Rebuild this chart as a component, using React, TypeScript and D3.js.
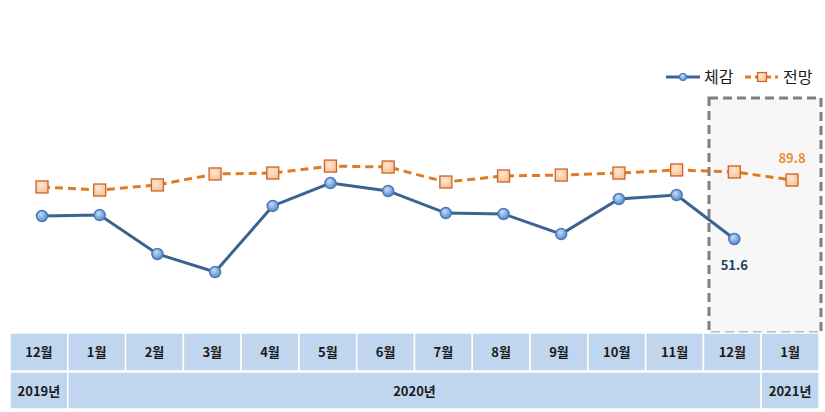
import React from "react";
import * as d3 from "d3";

const months = ["12월", "1월", "2월", "3월", "4월", "5월", "6월", "7월", "8월", "9월", "10월", "11월", "12월", "1월"];
const years = [
  { label: "2019년", from: 0, to: 0 },
  { label: "2020년", from: 1, to: 12 },
  { label: "2021년", from: 13, to: 13 },
];
const felt = [66.5, 67.1, 41.9, 30.2, 73.0, 87.8, 82.7, 68.4, 67.8, 54.8, 77.5, 80.1, 51.6];
const outlook = [85.3, 83.3, 86.6, 93.7, 94.3, 98.8, 98.2, 88.5, 92.4, 93.0, 94.3, 96.3, 95.0, 89.8];
const seriesNames = ["체감", "전망"];

const W = 825, H = 412;
const font = "'Malgun Gothic','Noto Sans CJK KR','Noto Sans',sans-serif";

export default function App() {
  const left = 10, right = 819;
  const x = d3.scaleBand<number>().domain(d3.range(months.length)).range([left, right]);
  const cx = (i: number) => (x(i) as number) + x.bandwidth() / 2;
  const px = d3.scalePoint<number>().domain(d3.range(months.length)).range([42, 792]);
  const y = d3.scaleLinear().domain([51.6, 89.8]).range([239, 180]);

  const line = d3.line<number>().x((_, i) => px(i) as number).y((d) => y(d));
  const row1Top = 333, row1H = 38, row2Top = 372, row2H = 37;

  return (
    <div style={{ position: "absolute", left: 0, top: 0 }}>
      <svg width={W} height={H} style={{ display: "block", fontFamily: font }}>
        <defs>
          <radialGradient id="blueG" cx="40%" cy="35%" r="70%">
            <stop offset="0%" stopColor="#c6dcf5" />
            <stop offset="60%" stopColor="#7ba7dc" />
            <stop offset="100%" stopColor="#5b8bd0" />
          </radialGradient>
          <radialGradient id="orangeG" cx="40%" cy="35%" r="75%">
            <stop offset="0%" stopColor="#fde7d3" />
            <stop offset="100%" stopColor="#f8bf8e" />
          </radialGradient>
        </defs>
        <rect width={W} height={H} fill="#fff" />
        {/* highlight box */}
        <rect x={709} y={98} width={112} height={235} fill="#f7f7f7" stroke="#7f7f7f" strokeWidth={3} strokeDasharray="9,5" />

        {/* table */}
        {months.map((m, i) => (
          <g key={"m" + i}>
            <rect x={x(i) as number} y={row1Top} width={x.bandwidth()} height={row1H} fill="#c0d6ef" stroke="#fff" strokeWidth={1.5} />
            <text x={cx(i)} y={row1Top + row1H / 2 + 5} textAnchor="middle" fontSize={13} fontWeight="bold" fill="#1a1a1a">{m}</text>
          </g>
        ))}
        {years.map((yr, k) => {
          const x0 = x(yr.from) as number;
          const x1 = (x(yr.to) as number) + x.bandwidth();
          return (
            <g key={"y" + k}>
              <rect x={x0} y={row2Top} width={x1 - x0} height={row2H} fill="#c0d6ef" stroke="#fff" strokeWidth={1.5} />
              <text x={(x0 + x1) / 2} y={row2Top + row2H / 2 + 5} textAnchor="middle" fontSize={13} fontWeight="bold" fill="#1a1a1a">{yr.label}</text>
            </g>
          );
        })}

        {/* outlook line */}
        <path d={line(outlook) || ""} fill="none" stroke="#e07b22" strokeWidth={3} strokeDasharray="8,5" />
        {/* felt line */}
        <path d={line(felt) || ""} fill="none" stroke="#3b6290" strokeWidth={3} />

        {outlook.map((v, i) => (
          <rect key={"o" + i} x={(px(i) as number) - 6} y={y(v) - 6} width={12} height={12} fill="url(#orangeG)" stroke="#c8652a" strokeWidth={1.3} />
        ))}
        {felt.map((v, i) => (
          <circle key={"f" + i} cx={px(i) as number} cy={y(v)} r={5.5} fill="url(#blueG)" stroke="#4a78b8" strokeWidth={1.5} />
        ))}

        {/* data labels */}
        <text x={px(felt.length - 1) as number} y={y(felt[felt.length - 1]) + 31} textAnchor="middle" fontSize={13} fontWeight="bold" fill="#243f60">{felt[felt.length - 1].toFixed(1)}</text>
        <text x={px(outlook.length - 1) as number} y={y(outlook[outlook.length - 1]) - 17} textAnchor="middle" fontSize={13} fontWeight="bold" fill="#e3923b">{outlook[outlook.length - 1].toFixed(1)}</text>

        {/* legend */}
        <g>
          <line x1={666} x2={700} y1={77} y2={77} stroke="#3b6290" strokeWidth={3} />
          <circle cx={683} cy={77} r={3.5} fill="url(#blueG)" stroke="#4a78b8" strokeWidth={1.2} />
          <text x={704} y={83} fontSize={16} fill="#1a1a1a">{seriesNames[0]}</text>
          <line x1={745} x2={778} y1={77} y2={77} stroke="#e07b22" strokeWidth={3} strokeDasharray="6,4" />
          <rect x={757.5} y={72.5} width={9} height={9} fill="url(#orangeG)" stroke="#c8652a" strokeWidth={1.2} />
          <text x={783} y={83} fontSize={16} fill="#1a1a1a">{seriesNames[1]}</text>
        </g>
      </svg>
    </div>
  );
}
